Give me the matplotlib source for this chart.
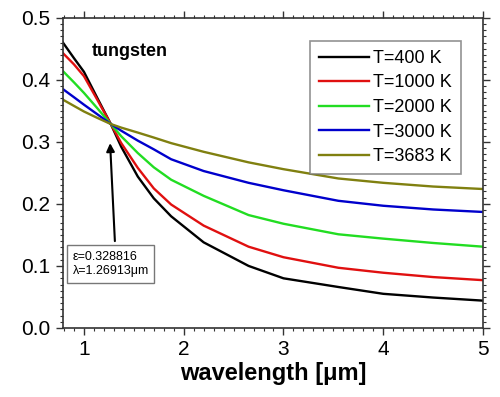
import matplotlib.pyplot as plt
from matplotlib.ticker import MultipleLocator

plt.rcParams['font.family'] = ['Liberation Sans', 'DejaVu Sans']

# wavelength in um
wl = [0.79, 0.9, 1.0, 1.13, 1.269, 1.374, 1.54, 1.7, 1.874, 2.2, 2.65, 3.0, 3.55, 4.0, 4.5, 5.0]
# emissivity for each temperature
eps_400 = [0.46, 0.435, 0.413, 0.372, 0.3288, 0.292, 0.244, 0.209, 0.18, 0.138,
           0.100, 0.080, 0.066, 0.055, 0.049, 0.044]
eps_1000 = [0.443, 0.425, 0.406, 0.369, 0.3288, 0.298, 0.258, 0.225, 0.199, 0.165,
            0.131, 0.114, 0.097, 0.089, 0.082, 0.077]
eps_2000 = [0.414, 0.396, 0.379, 0.355, 0.3288, 0.309, 0.282, 0.259, 0.239, 0.213,
            0.182, 0.168, 0.151, 0.144, 0.137, 0.131]
eps_3000 = [0.385, 0.372, 0.36, 0.345, 0.3288, 0.318, 0.302, 0.288, 0.272, 0.253,
            0.234, 0.222, 0.205, 0.197, 0.191, 0.187]
eps_3683 = [0.368, 0.358, 0.349, 0.339, 0.3288, 0.323, 0.315, 0.307, 0.298, 0.284,
            0.267, 0.256, 0.241, 0.234, 0.228, 0.224]

labels = ["T=400 K", "T=1000 K", "T=2000 K", "T=3000 K", "T=3683 K"]
colors = ["black", "#e01010", "#22dd22", "#0000cc", "#808010"]

fig = plt.figure(figsize=(5, 3.97), dpi=100)
ax = fig.add_axes([0.126, 0.174, 0.84, 0.781])

for y, lab, c in zip([eps_400, eps_1000, eps_2000, eps_3000, eps_3683], labels, colors):
    ax.plot(wl, y, color=c, lw=1.7, label=lab)

ax.set_xlim(0.79, 5)
ax.set_ylim(0, 0.5)
ax.xaxis.set_major_locator(MultipleLocator(1))
ax.xaxis.set_minor_locator(MultipleLocator(0.1))
ax.yaxis.set_major_locator(MultipleLocator(0.1))
ax.yaxis.set_minor_locator(MultipleLocator(0.01))
ax.yaxis.set_major_formatter(lambda v, p: "%.1f" % v)
ax.tick_params(which="both", direction="out", top=True, right=True,
               labeltop=False, labelright=False, color="#333333")
ax.tick_params(which="major", length=5, width=1, labelsize=15, pad=4)
ax.tick_params(which="minor", length=2.5, width=0.8)
for s in ax.spines.values():
    s.set_linewidth(1.2)
    s.set_color("#333333")

ax.set_xlabel("wavelength [\u03bcm]", fontsize=17, fontweight="bold", labelpad=2)
ax.text(1.08, 0.445, "tungsten", fontsize=13, fontweight="bold", va="center")

leg = ax.legend(loc="upper right", bbox_to_anchor=(0.968, 0.955), fontsize=13,
                fancybox=False, edgecolor="#777777", handlelength=2.8,
                handletextpad=0.2, labelspacing=0.42, borderpad=0.5)
leg.get_frame().set_linewidth(1.2)

# crossing point annotation
ax.annotate("", xy=(1.262, 0.298), xytext=(1.31, 0.14),
            arrowprops=dict(arrowstyle="-|>", color="black", lw=1.5,
                            mutation_scale=12, shrinkA=0, shrinkB=0))
ax.text(0.885, 0.103, "\u03b5=0.328816\n\u03bb=1.26913\u03bcm", fontsize=9,
        va="center", ha="left", linespacing=1.3,
        bbox=dict(boxstyle="square,pad=0.45", fc="white", ec="#777777", lw=1))

fig.savefig("out.png", dpi=100)
